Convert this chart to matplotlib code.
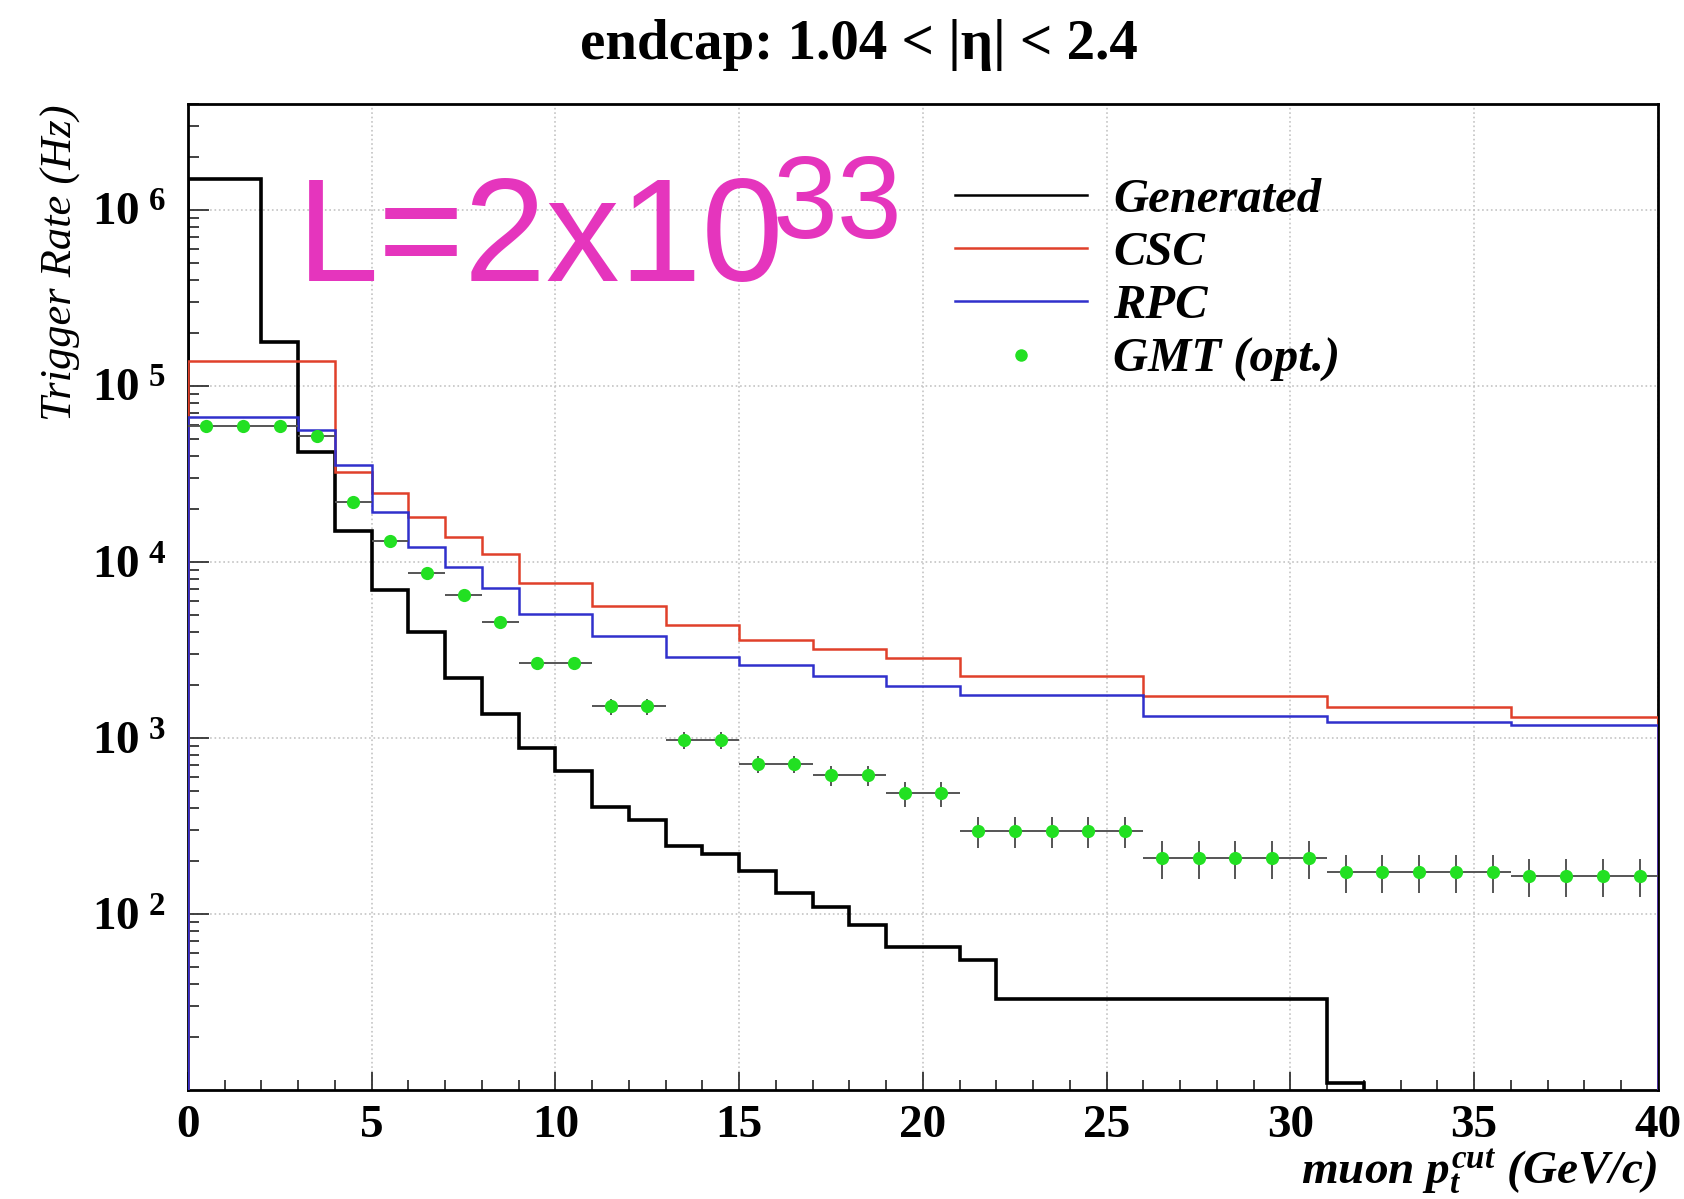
import numpy as np
import matplotlib.pyplot as plt
from matplotlib.lines import Line2D
from matplotlib.ticker import LogLocator, MultipleLocator, NullFormatter

plt.rcParams['font.family'] = ['Liberation Serif', 'DejaVu Serif']
plt.rcParams['mathtext.fontset'] = 'custom'
plt.rcParams['mathtext.rm'] = 'Liberation Serif'
plt.rcParams['mathtext.bf'] = 'Liberation Serif:bold'
plt.rcParams['mathtext.it'] = 'Liberation Serif:italic:bold'

# trigger rate vs pt threshold, endcap region
gen_edges = [0, 2, 3, 4, 5, 6, 7, 8, 9, 10, 11, 12, 13, 14, 15, 16, 17, 18, 19, 21, 22, 31, 32]
gen_rate = [1.49e6, 1.77e5, 4.2e4, 1.5e4, 6.95e3, 3.98e3, 2.2e3, 1.36e3, 881, 650, 408,
            340, 243, 219, 175, 131, 110, 87, 65, 55, 33, 11]

csc_edges = [0, 4, 5, 6, 7, 8, 9, 11, 13, 15, 17, 19, 21, 26, 31, 36, 40]
csc_rate = [1.39e5, 3.23e4, 2.45e4, 1.79e4, 1.39e4, 1.11e4, 7.6e3, 5.6e3, 4.4e3, 3.59e3,
            3.22e3, 2.83e3, 2.24e3, 1.74e3, 1.49e3, 1.32e3]

rpc_edges = [0, 3, 4, 5, 6, 7, 8, 9, 11, 13, 15, 17, 19, 21, 26, 31, 36, 40]
rpc_rate = [6.7e4, 5.6e4, 3.57e4, 1.93e4, 1.21e4, 9.4e3, 7.1e3, 5.06e3, 3.8e3, 2.9e3,
            2.6e3, 2.25e3, 1.98e3, 1.76e3, 1.34e3, 1.24e3, 1.19e3]

gmt_pt = [0.5, 1.5, 2.5, 3.5, 4.5, 5.5, 6.5, 7.5, 8.5, 9.5, 10.5, 11.5, 12.5, 13.5, 14.5,
          15.5, 16.5, 17.5, 18.5, 19.5, 20.5, 21.5, 22.5, 23.5, 24.5, 25.5, 26.5, 27.5,
          28.5, 29.5, 30.5, 31.5, 32.5, 33.5, 34.5, 35.5, 36.5, 37.5, 38.5, 39.5]
gmt_rate = [5.94e4, 5.94e4, 5.94e4, 5.2e4, 2.18e4, 1.32e4, 8.6e3, 6.5e3, 4.57e3, 2.65e3,
            2.65e3, 1.51e3, 1.51e3, 975, 975, 710, 710, 614, 614, 485, 485,
            297, 297, 297, 297, 297, 209, 209, 209, 209, 209,
            174, 174, 174, 174, 174, 165, 165, 165, 165]
gmt_err = [1500, 1500, 1500, 1400, 900, 600, 450, 380, 300, 220, 220, 160, 160, 110, 110,
           80, 80, 80, 80, 80, 80, 60, 60, 60, 60, 60, 50, 50, 50, 50, 50,
           43, 43, 43, 43, 43, 40, 40, 40, 40]

legend_labels = ['Generated', 'CSC', 'RPC', 'GMT (opt.)']
xticks = [0, 5, 10, 15, 20, 25, 30, 35, 40]
yticks = [1e2, 1e3, 1e4, 1e5, 1e6]

c_gen = 'black'
c_csc = '#e0402a'
c_rpc = '#3030cc'
c_gmt = '#22e022'

fig = plt.figure(figsize=(16.84, 11.99), dpi=100)
ax = fig.add_axes([0.1116, 0.0909, 0.8729, 0.8224])

ax.stairs(gen_rate, gen_edges, baseline=1.0, color=c_gen, lw=2.6, zorder=3)
ax.stairs(csc_rate, csc_edges, baseline=1.0, color=c_csc, lw=1.8, zorder=3)
ax.stairs(rpc_rate, rpc_edges, baseline=1.0, color=c_rpc, lw=1.8, zorder=3)
ax.errorbar(gmt_pt, gmt_rate, xerr=0.5, yerr=gmt_err, fmt='o', color=c_gmt, mec='none',
            ms=9.5, ecolor='#555555', elinewidth=1.4, capsize=0, zorder=4)

ax.set_yscale('log')
ax.set_xlim(0, 40)
ax.set_ylim(10, 4e6)

ax.set_xticks(xticks, labels=[str(t) for t in xticks])
ax.xaxis.set_minor_locator(MultipleLocator(1))
ax.set_yticks(yticks, labels=[r'$\mathbf{10}^{\ \mathbf{%d}}$' % int(np.log10(v)) for v in yticks])
ax.yaxis.set_minor_locator(LogLocator(base=10, subs=np.arange(2, 10)))
ax.yaxis.set_minor_formatter(NullFormatter())
for lab in ax.get_xticklabels():
    lab.set_fontweight('bold')

ax.tick_params(which='both', direction='in', top=False, right=False, color='#333333', width=1.3)
ax.tick_params(axis='x', which='major', length=13, pad=11, labelsize=34)
ax.tick_params(axis='x', which='minor', length=7)
ax.tick_params(axis='y', which='major', length=15, pad=16, labelsize=34)
ax.tick_params(axis='y', which='minor', length=8)

ax.grid(True, which='major', ls=':', color='#c4c4c4', lw=1.2)
ax.set_axisbelow(True)
for s in ax.spines.values():
    s.set_linewidth(2.0)

ax.set_xlabel(r'muon $p_{t}^{cut}$ (GeV/c)', loc='right', fontsize=34,
              fontstyle='italic', fontweight='bold')
ax.xaxis.set_label_coords(1.0, -0.059)
ax.set_ylabel('Trigger Rate (Hz)', loc='top', fontsize=32, fontstyle='italic')
ax.yaxis.set_label_coords(-0.073, 1.0)

fig.text(0.510, 0.951, 'endcap: 1.04 < |η| < 2.4', ha='center', va='baseline',
         fontsize=41, fontweight='bold')

handles = [Line2D([], [], color=c_gen, lw=1.8),
           Line2D([], [], color=c_csc, lw=1.8),
           Line2D([], [], color=c_rpc, lw=1.8),
           Line2D([], [], color=c_gmt, marker='o', ls='none', ms=9, mec='none')]
ax.legend(handles, legend_labels, loc='upper left', bbox_to_anchor=(0.522, 0.925),
          frameon=False, borderpad=0, borderaxespad=0, handlelength=2.7,
          handletextpad=0.55, labelspacing=0.19,
          prop={'family': 'Liberation Serif', 'style': 'italic', 'weight': 'bold', 'size': 35})

# luminosity note
fig.text(0.1764, 0.7656, 'L=2x10', fontsize=106, family='Liberation Sans',
         color='#e535bd', va='baseline')
fig.text(0.459, 0.8015, '33', fontsize=84, family='Liberation Sans',
         color='#e535bd', va='baseline')

fig.savefig('out.png', dpi=100)
